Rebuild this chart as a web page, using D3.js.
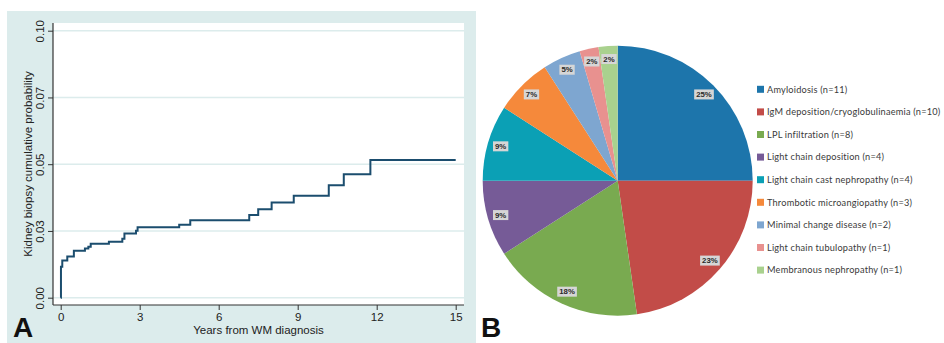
<!DOCTYPE html>
<html>
<head>
<meta charset="utf-8">
<script src="https://cdn.jsdelivr.net/npm/d3@7"></script>
<style>
  body { margin: 0; background: #fff; }
  svg { display: block; }
</style>
</head>
<body>
<svg id="chart" width="944" height="343"></svg>
<script>
// ---- Panel A: cumulative probability of kidney biopsy over time ----
const kmTimes = [0, 0.01, 0.06, 0.25, 0.5, 0.92, 1.05, 1.14, 1.83, 2.34, 2.42, 2.86, 2.92,
                 4.50, 4.92, 7.16, 7.50, 8.01, 8.85, 10.18, 10.75, 11.76, 15.0];
const kmProb  = [0, 0.0116, 0.0139, 0.0154, 0.0176, 0.0184, 0.0191, 0.0202, 0.0210, 0.0221, 0.0240, 0.0251, 0.0264,
                 0.0273, 0.0290, 0.0310, 0.0331, 0.0357, 0.0382, 0.0421, 0.0462, 0.0516, 0.0516];
const xTicks = [0, 3, 6, 9, 12, 15];
const yTicks = [0, 0.025, 0.05, 0.075, 0.10];
const yTickLabels = ["0.00", "0.03", "0.05", "0.07", "0.10"];

// ---- Panel B: renal pathology distribution ----
const categories = [
  "Amyloidosis",
  "IgM deposition/cryoglobulinaemia",
  "LPL infiltration",
  "Light chain deposition",
  "Light chain cast nephropathy",
  "Thrombotic microangiopathy",
  "Minimal change disease",
  "Light chain tubulopathy",
  "Membranous nephropathy"
];
const counts = [11, 10, 8, 4, 4, 3, 2, 1, 1];
const sliceColors = ["#1d75ab", "#c24c48", "#79aa50", "#765b97", "#0ba0b5",
                     "#f5893b", "#7ea6d0", "#e8918f", "#a9d18e"];

const svg = d3.select("#chart");
const sansA = "'Liberation Sans', Arial, sans-serif";

// ---------- Panel A ----------
const plot = { left: 53, right: 464, top: 23, bottom: 305 };
const panelBg = "#dcecec";

svg.append("rect").attr("x", 7).attr("y", 11).attr("width", 469).attr("height", 332)
  .attr("fill", panelBg);
svg.append("rect").attr("x", plot.left).attr("y", plot.top)
  .attr("width", plot.right - plot.left).attr("height", plot.bottom - plot.top)
  .attr("fill", "#fff");

const x = d3.scaleLinear().domain([0, 15]).range([60.7, 455.7]);
const y = d3.scaleLinear().domain([0, 0.10]).range([297.7, 30.7]);

// horizontal grid lines
svg.append("g").selectAll("line").data(yTicks).join("line")
  .attr("x1", plot.left).attr("x2", plot.right)
  .attr("y1", d => y(d)).attr("y2", d => y(d))
  .attr("stroke", panelBg).attr("stroke-width", 1.5);

// axis lines
svg.append("line").attr("x1", plot.left).attr("x2", plot.left)
  .attr("y1", plot.top).attr("y2", plot.bottom).attr("stroke", "#333").attr("stroke-width", 1.2);
svg.append("line").attr("x1", plot.left).attr("x2", plot.right)
  .attr("y1", plot.bottom).attr("y2", plot.bottom).attr("stroke", "#333").attr("stroke-width", 1.2);

const yAxis = svg.append("g").attr("transform", `translate(${plot.left},0)`)
  .call(d3.axisLeft(y).tickValues(yTicks).tickSize(5).tickFormat((d, i) => yTickLabels[i]));
yAxis.select(".domain").remove();
yAxis.selectAll(".tick line").attr("stroke", "#333");
yAxis.selectAll(".tick text")
  .attr("transform", "rotate(-90)")
  .attr("x", 0).attr("y", -9).attr("dy", 0)
  .attr("text-anchor", "middle")
  .attr("font-family", sansA).attr("font-size", 11.5).attr("fill", "#222");

const xAxis = svg.append("g").attr("transform", `translate(0,${plot.bottom})`)
  .call(d3.axisBottom(x).tickValues(xTicks).tickSize(5).tickFormat(d3.format("d")));
xAxis.select(".domain").remove();
xAxis.selectAll(".tick line").attr("stroke", "#333");
xAxis.selectAll(".tick text")
  .attr("font-family", sansA).attr("font-size", 11.5).attr("fill", "#222");

svg.append("text").attr("x", (plot.left + plot.right) / 2).attr("y", 334)
  .attr("text-anchor", "middle").attr("font-family", sansA).attr("font-size", 11.5)
  .attr("fill", "#222").text("Years from WM diagnosis");

svg.append("text").attr("transform", `translate(32.3,${(plot.top + plot.bottom) / 2}) rotate(-90)`)
  .attr("text-anchor", "middle").attr("font-family", sansA).attr("font-size", 11.5)
  .attr("fill", "#222").text("Kidney biopsy cumulative probability");

// step curve
const kmData = kmTimes.map((t, i) => ({ t, p: kmProb[i] }));
const stepLine = d3.line().x(d => x(d.t)).y(d => y(d.p)).curve(d3.curveStepAfter);
svg.append("path").datum(kmData).attr("d", stepLine)
  .attr("fill", "none").attr("stroke", "#1b4d6e").attr("stroke-width", 2);

// panel letters
svg.append("text").attr("x", 13).attr("y", 337).attr("font-family", sansA)
  .attr("font-weight", "bold").attr("font-size", 28).attr("fill", "#111").text("A");
svg.append("text").attr("x", 481).attr("y", 337).attr("font-family", sansA)
  .attr("font-weight", "bold").attr("font-size", 28).attr("fill", "#111").text("B");

// ---------- Panel B ----------
const cx = 617.7, cy = 180.7, radius = 135;
const total = d3.sum(counts);
const pieData = d3.pie().sort(null).value(d => d)(counts);
const arc = d3.arc().innerRadius(0).outerRadius(radius);
const labelArc = d3.arc().innerRadius(122).outerRadius(122);

const pieG = svg.append("g").attr("transform", `translate(${cx},${cy})`);
pieG.selectAll("path").data(pieData).join("path")
  .attr("d", arc).attr("fill", (d, i) => sliceColors[i]);

const labelG = pieG.selectAll("g.lbl").data(pieData).join("g").attr("class", "lbl")
  .attr("transform", d => `translate(${labelArc.centroid(d)})`);
labelG.append("rect").attr("fill", "#d6d6d6");
labelG.append("text")
  .attr("text-anchor", "middle").attr("dy", "0.35em")
  .attr("font-family", sansA).attr("font-weight", "bold").attr("font-size", 7.8)
  .attr("fill", "#2a2a2a")
  .text(d => Math.round(d.data / total * 100) + "%");
labelG.each(function () {
  const g = d3.select(this);
  const bb = g.select("text").node().getBBox();
  g.select("rect").attr("x", bb.x - 2).attr("y", -5).attr("width", bb.width + 4).attr("height", 10);
});

// legend
const legendFont = "Lato, 'Open Sans', sans-serif";
const legG = svg.append("g");
const rows = legG.selectAll("g").data(categories).join("g")
  .attr("transform", (d, i) => `translate(757,${89.3 + i * 22.6})`);
rows.append("rect").attr("x", 0).attr("y", -3.5).attr("width", 7).attr("height", 7)
  .attr("fill", (d, i) => sliceColors[i]);
rows.append("text").attr("x", 10).attr("dy", "0.35em")
  .attr("font-family", legendFont).attr("font-size", 9.2).attr("letter-spacing", 0.2)
  .attr("fill", "#3a3a3a")
  .text((d, i) => `${d} (n=${counts[i]})`);
</script>
</body>
</html>
